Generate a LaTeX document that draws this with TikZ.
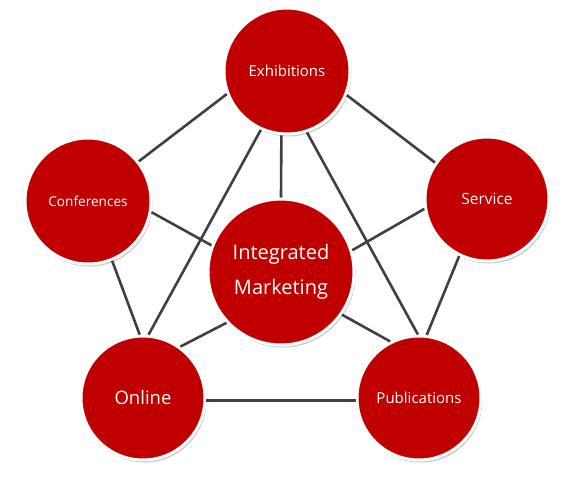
\documentclass[tikz,border=0pt]{standalone}
\usepackage{fontspec}
\setmainfont{Open Sans}
\usetikzlibrary{shadows}
\definecolor{topicred}{HTML}{C00000}
\definecolor{linkgray}{HTML}{404040}
\begin{document}
\begin{tikzpicture}[x=1pt, y=-1pt,
  topic/.style={circle, fill=topicred, draw=white, line width=3pt,
    minimum size=126pt, inner sep=0pt, text=white, align=center,
    drop shadow={shadow xshift=1.5pt, shadow yshift=-2.5pt, opacity=0.3, fill=black!70}},
  link/.style={draw=linkgray, line width=2.6pt}]

  \useasboundingbox (0,0) rectangle (576,477);

  % ---- the circles ----
  \node[topic, font=\fontsize{15}{18}\selectfont] (exh) at (287,71) {Exhibitions};
  \node[topic, font=\fontsize{13.6}{16}\selectfont] (conf) at (88,201) {Conferences};
  \node[topic, minimum size=124pt, font=\fontsize{15.5}{18}\selectfont] (serv) at (487,199) {Service};
  \node[topic, minimum size=146pt, font=\fontsize{20}{35}\selectfont] (intm) at (281,272)
    {Integrated\\Marketing};
  \node[topic, minimum size=124pt, font=\fontsize{18.5}{22}\selectfont] (onl) at (143,398) {Online};
  \node[topic, minimum size=124pt, font=\fontsize{15}{18}\selectfont] (pub) at (419,398) {Publications};

  % ---- links from the top circle ----
  \draw[link] (exh.201) -- (conf.38);
  \draw[link] (exh.338) -- (serv.145);
  \draw[link] (exh.265) -- (intm.90);
  \draw[link] (exh.246) -- (onl.85);
  \draw[link] (exh.288) -- (pub.91);

  % ---- links to the centre ----
  \draw[link] (conf.350) -- (intm.159);
  \draw[link] (serv.189) -- (intm.17);
  \draw[link] (onl.54) -- (intm.223);
  \draw[link] (pub.117) -- (intm.325);

  % ---- outer ring ----
  \draw[link] (conf.292) -- (onl.93);
  \draw[link] (serv.244) -- (pub.83);
  \draw[link] (onl.358) -- (pub.182);

\end{tikzpicture}
\end{document}
